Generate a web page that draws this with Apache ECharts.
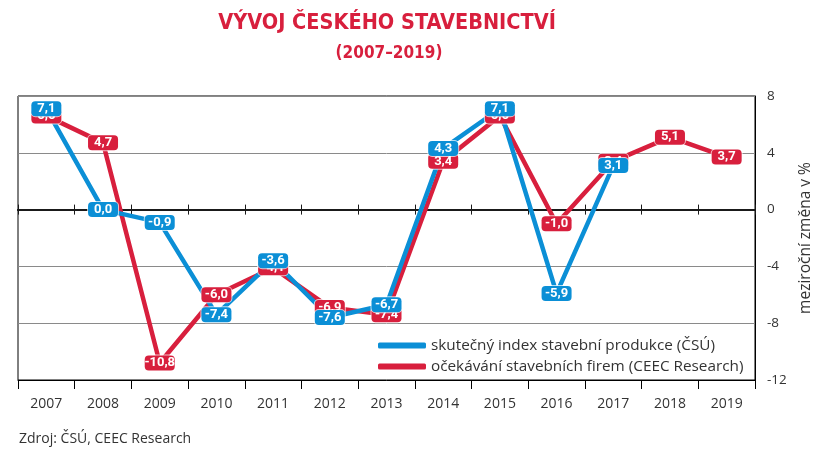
<!DOCTYPE html>
<html>
<head>
<meta charset="utf-8">
<script src="https://cdn.jsdelivr.net/npm/echarts@6/dist/echarts.min.js"></script>
<style>
html,body{margin:0;padding:0;background:#fff;}
#chart{width:832px;height:459px;}
</style>
</head>
<body>
<div id="chart"></div>
<script>
var titleText = 'VÝVOJ ČESKÉHO STAVEBNICTVÍ';
var subtitleText = '(2007–2019)';
var sourceText = 'Zdroj: ČSÚ, CEEC Research';
var yAxisName = 'meziroční změna v %';
var years = ['2007','2008','2009','2010','2011','2012','2013','2014','2015','2016','2017','2018','2019'];
var actualName = 'skutečný index stavební produkce (ČSÚ)';
var actualValues = [7.1, 0.0, -0.9, -7.4, -3.6, -7.6, -6.7, 4.3, 7.1, -5.9, 3.1, null, null];
var expectedName = 'očekávání stavebních firem (CEEC Research)';
var expectedValues = [6.6, 4.7, -10.8, -6.0, -4.1, -6.9, -7.4, 3.4, 6.6, -1.0, 3.4, 5.1, 3.7];
var yMin = -12, yMax = 8, yStep = 4;

var BLUE = '#0b8fd6';
var RED = '#d81f3d';
var TEXT = '#333333';
var SANS = '"Open Sans", "Noto Sans", sans-serif';
var NARROW = '"Liberation Sans Narrow", "DejaVu Sans Condensed", sans-serif';
var LABELFONT = 'Roboto, "Open Sans", sans-serif';

function fmt(p){ return p.value == null ? '' : Number(p.value).toFixed(1).replace('.', ','); }

function labelCfg(color){
  return {
    show: true,
    position: 'inside',
    formatter: fmt,
    color: '#fff',
    fontFamily: LABELFONT,
    fontWeight: 'bold',
    fontSize: 13,
    lineHeight: 14,
    width: 24,
    align: 'center',
    overflow: 'none',
    backgroundColor: color,
    borderRadius: 4,
    borderColor: 'rgba(255,255,255,0.7)',
    borderWidth: 1,
    padding: [1, 3, 0, 3]
  };
}

function lineSeries(name, data, color, z){
  return {
    name: name, type: 'line', data: data, xAxisIndex: 0, z: z,
    symbol: 'none', connectNulls: false,
    lineStyle: {color: color, width: 4.5},
    itemStyle: {color: color},
    emphasis: {disabled: true}
  };
}
function labelSeries(name, data, color, z){
  return {
    name: name, type: 'line', data: data, xAxisIndex: 0, z: z,
    symbol: 'circle', symbolSize: 1, showSymbol: true, connectNulls: false,
    lineStyle: {width: 0, color: 'rgba(0,0,0,0)'},
    itemStyle: {color: 'rgba(0,0,0,0)', borderWidth: 0},
    label: labelCfg(color),
    emphasis: {disabled: true}, silent: true
  };
}

var chart = echarts.init(document.getElementById('chart'), null, {renderer: 'canvas'});
var option = {
  animation: false,
  backgroundColor: '#fff',
  graphic: [
    {type: 'text', x: 387, y: 23, style: {text: titleText, align: 'center', verticalAlign: 'middle', fill: RED, font: 'bold 21.5px ' + NARROW}},
    {type: 'text', x: 389, y: 54, style: {text: subtitleText, align: 'center', verticalAlign: 'middle', fill: RED, font: 'bold 17px ' + NARROW}},
    {type: 'text', x: 19, y: 439, style: {text: sourceText, align: 'left', verticalAlign: 'middle', fill: TEXT, font: '14px ' + SANS}}
  ],
  grid: {left: 18, right: 77, top: 96, bottom: 79, show: true, borderColor: '#000', borderWidth: 1, containLabel: false},
  legend: {
    orient: 'vertical', left: 373, top: 333, itemGap: 6,
    icon: 'roundRect', itemWidth: 48, itemHeight: 6,
    textStyle: {color: TEXT, fontSize: 15.3, fontFamily: SANS},
    data: [actualName, expectedName]
  },
  xAxis: [
    {
      type: 'category', data: years, position: 'bottom', boundaryGap: true,
      axisLine: {onZero: false, lineStyle: {color: '#000', width: 1}},
      axisTick: {show: true, length: 9, lineStyle: {color: '#000'}},
      axisLabel: {color: TEXT, fontSize: 14, fontFamily: SANS, margin: 17},
      splitLine: {show: false}
    },
    {
      type: 'category', data: years, position: 'bottom', boundaryGap: true,
      axisLine: {onZero: true, onZeroAxisIndex: 0, lineStyle: {color: '#1a1a1a', width: 2}},
      axisTick: {show: true, length: 5, lineStyle: {color: '#1a1a1a', width: 1}},
      axisLabel: {show: false}, splitLine: {show: false}
    },
    {
      type: 'category', data: years, position: 'bottom', boundaryGap: true,
      axisLine: {onZero: true, onZeroAxisIndex: 0, lineStyle: {color: '#1a1a1a', width: 2}},
      axisTick: {show: true, inside: true, length: 5, lineStyle: {color: '#1a1a1a', width: 1}},
      axisLabel: {show: false}, splitLine: {show: false}
    }
  ],
  yAxis: {
    type: 'value', position: 'right', min: yMin, max: yMax, interval: yStep,
    name: yAxisName, nameLocation: 'middle', nameRotate: 90, nameGap: 42,
    nameTextStyle: {color: TEXT, fontSize: 15.5, fontFamily: SANS},
    axisLine: {show: true, lineStyle: {color: '#000', width: 1}},
    axisTick: {show: false},
    axisLabel: {color: TEXT, fontSize: 13.5, fontFamily: SANS, margin: 12, align: 'left'},
    splitLine: {show: true, lineStyle: {color: '#8a8a8a', width: 1}}
  },
  series: [
    lineSeries(expectedName, expectedValues, RED, 2),
    lineSeries(actualName, actualValues, BLUE, 3),
    labelSeries('expected-labels', expectedValues, RED, 4),
    labelSeries('actual-labels', actualValues, BLUE, 5)
  ]
};
chart.setOption(option);
</script>
</body>
</html>
